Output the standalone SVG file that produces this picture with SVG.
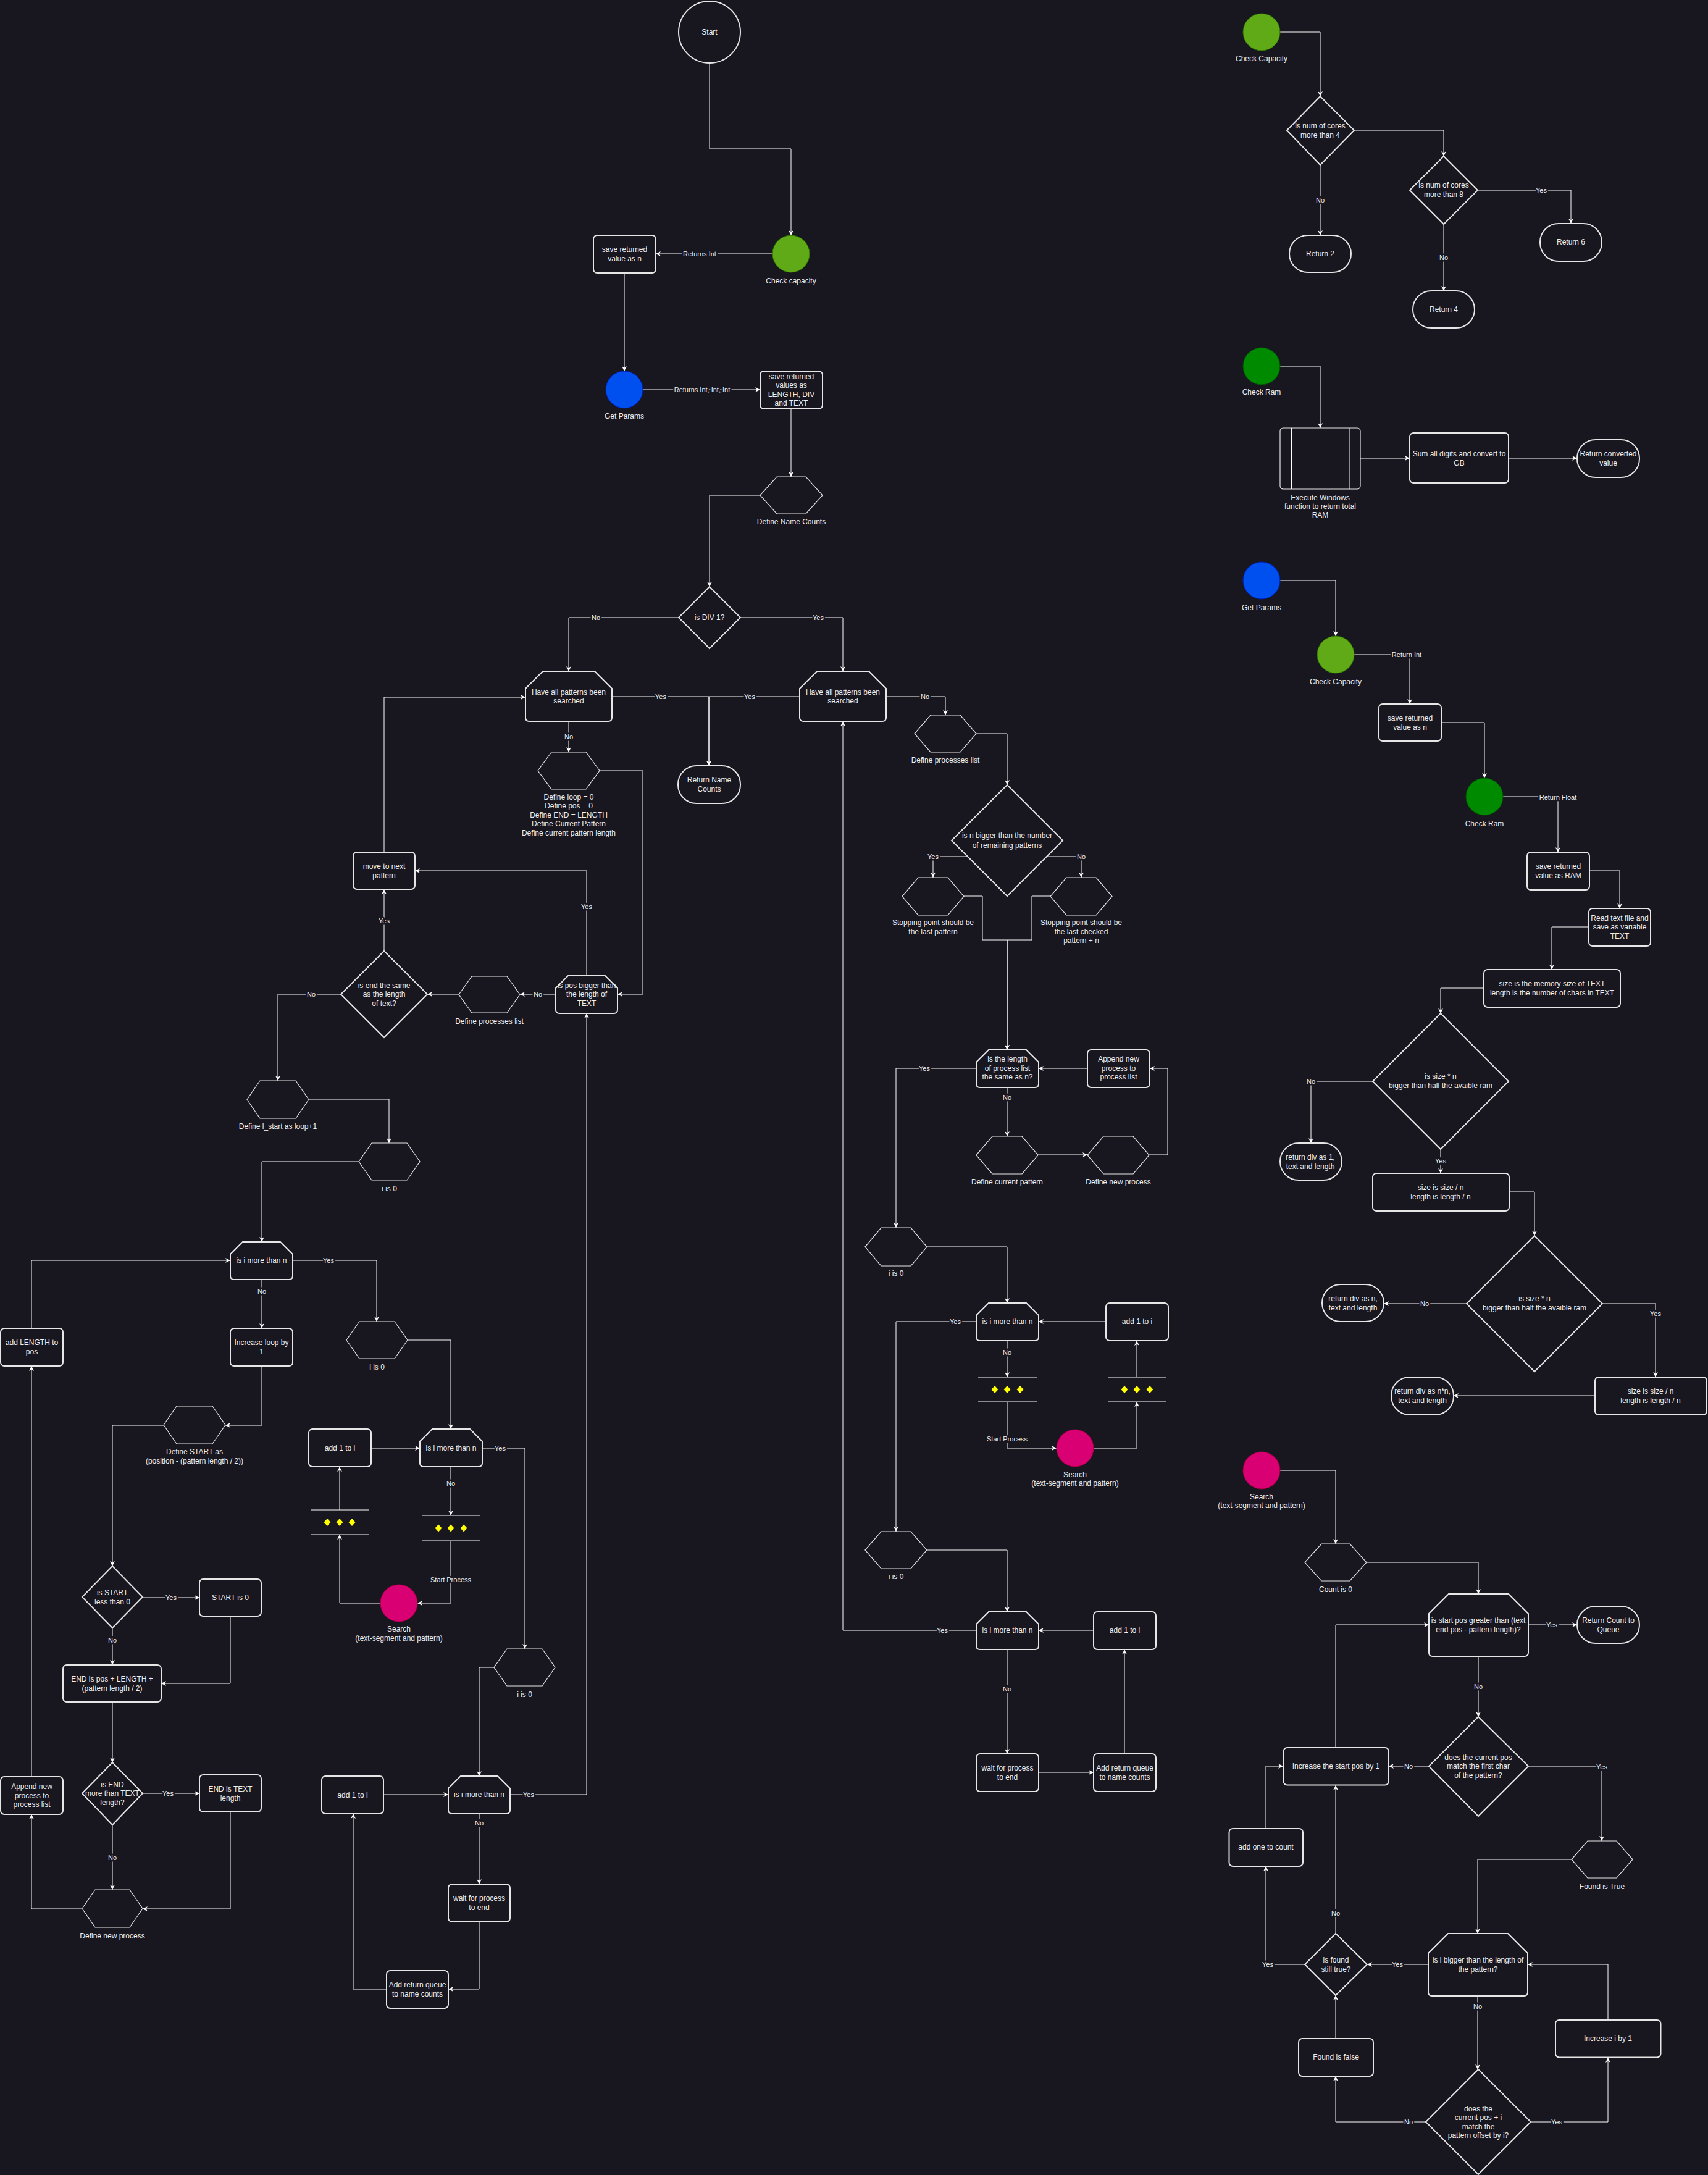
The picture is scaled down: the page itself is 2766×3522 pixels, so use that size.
<svg xmlns="http://www.w3.org/2000/svg" width="2766" height="3522" viewBox="0 0 2766 3522">
<defs>
<marker id="arr" viewBox="0 0 10 10" refX="10" refY="5" markerWidth="8" markerHeight="8" markerUnits="userSpaceOnUse" orient="auto">
<path d="M0,0 L10,5 L0,10 L3,5 Z" fill="#ffffff"/>
</marker>
<style>
.n{fill:#18161f;stroke:#e6e6e6;stroke-width:2}
.h{fill:#18161f;stroke:#e6e6e6;stroke-width:1.2}
.t{font-family:"Liberation Sans",Arial,sans-serif;font-size:12px;fill:#f0f0f0;text-anchor:middle;dominant-baseline:central}
.el{font-family:"Liberation Sans",Arial,sans-serif;font-size:11px;fill:#f0f0f0;text-anchor:middle;dominant-baseline:central;paint-order:stroke;stroke:#18161f;stroke-width:5px;stroke-linejoin:round}
.e{fill:none;stroke:#ffffff;stroke-width:1;marker-end:url(#arr)}
.pl{stroke:#ffffff;stroke-width:1}
.dot{fill:#ffff00}
.g1{fill:#60a917;stroke:#2d7600;stroke-width:1}
.g2{fill:#008a00;stroke:#005700;stroke-width:1}
.bl{fill:#0050ef;stroke:#001dbc;stroke-width:1}
.mg{fill:#d80073;stroke:#a50040;stroke-width:1}
</style>
</defs>
<rect x="0" y="0" width="2766" height="3522" fill="#18161f"/>

<!-- connectors -->
<g id="connectors">
<path class="e" d="M1149,102 V241 H1281 V381"/>
<path class="e" d="M1251,411 H1062"/>
<path class="e" d="M1011,442 V601"/>
<path class="e" d="M1041,631 H1231"/>
<path class="e" d="M1281,662 V772"/>
<path class="e" d="M1231,802 H1149 V950"/>
<path class="e" d="M1099,1000 H921 V1087"/>
<path class="e" d="M1199,1000 H1365 V1087"/>
<path class="e" d="M991,1128 H1148 V1240"/>
<path class="e" d="M1295,1128 H1148 V1240"/>
<path class="e" d="M921,1168 V1218"/>
<path class="e" d="M1435,1128 H1531 V1158"/>
<path class="e" d="M1581,1188 H1631 V1271"/>
<path class="e" d="M1568,1387 H1511 V1421"/>
<path class="e" d="M1694,1387 H1751 V1421"/>
<path class="e" d="M1561,1451 H1591 V1522 H1631 V1700"/>
<path class="e" d="M1701,1451 H1671 V1522 H1631 V1700"/>
<path class="e" d="M1581,1730 H1451 V1988"/>
<path class="e" d="M1631,1761 V1840"/>
<path class="e" d="M1681,1870 H1761"/>
<path class="e" d="M1861,1870 H1891 V1730 H1862"/>
<path class="e" d="M1761,1730 H1682"/>
<path class="e" d="M1501,2019 H1631 V2110"/>
<path class="e" d="M1581,2140 H1451 V2480"/>
<path class="e" d="M1631,2171 V2230"/>
<path class="e" d="M1631,2270 V2345 H1711"/>
<path class="e" d="M1771,2345 H1841 V2270"/>
<path class="e" d="M1841,2230 V2171"/>
<path class="e" d="M1791,2140 H1682"/>
<path class="e" d="M1501,2510 H1631 V2610"/>
<path class="e" d="M1581,2640 H1365 V1168"/>
<path class="e" d="M1631,2671 V2840"/>
<path class="e" d="M1682,2870 H1771"/>
<path class="e" d="M1821,2840 V2671"/>
<path class="e" d="M1771,2640 H1682"/>

<path class="e" d="M971,1248 H1041 V1610 H1000"/>
<path class="e" d="M950,1580 V1410 H672"/>
<path class="e" d="M900,1610 H842"/>
<path class="e" d="M743,1610 H692"/>
<path class="e" d="M622,1540 V1440"/>
<path class="e" d="M622,1380 V1129 H851"/>
<path class="e" d="M552,1610 H450 V1750"/>
<path class="e" d="M500,1780 H630 V1851"/>
<path class="e" d="M581,1881 H424 V2011"/>
<path class="e" d="M474,2041 H610 V2140"/>
<path class="e" d="M424,2072 V2151"/>
<path class="e" d="M51,2151 V2041 H373"/>
<path class="e" d="M424,2212 V2308 H365"/>
<path class="e" d="M265,2308 H182 V2536"/>
<path class="e" d="M231,2587 H323"/>
<path class="e" d="M182,2636 V2696"/>
<path class="e" d="M373,2617 V2726 H261"/>
<path class="e" d="M182,2756 V2854"/>
<path class="e" d="M231,2904 H323"/>
<path class="e" d="M182,2955 V3060"/>
<path class="e" d="M373,2934 V3091 H231"/>
<path class="e" d="M133,3091 H51 V2938"/>
<path class="e" d="M51,2877 V2212"/>
<path class="e" d="M660,2170 H730 V2314"/>
<path class="e" d="M601,2345 H680"/>
<path class="e" d="M730,2375 V2454"/>
<path class="e" d="M730,2495 V2596 H676"/>
<path class="e" d="M616,2596 H550 V2485"/>
<path class="e" d="M550,2445 V2375"/>
<path class="e" d="M781,2345 H850 V2670"/>
<path class="e" d="M800,2700 H776 V2876"/>
<path class="e" d="M826,2906 H950 V1641"/>
<path class="e" d="M621,2906 H726"/>
<path class="e" d="M776,2937 V3051"/>
<path class="e" d="M776,3112 V3221 H726"/>
<path class="e" d="M626,3221 H572 V2937"/>

<path class="e" d="M2073,52 H2138 V156"/>
<path class="e" d="M2193,211 H2338 V253"/>
<path class="e" d="M2138,267 V381"/>
<path class="e" d="M2393,308 H2544 V362"/>
<path class="e" d="M2338,363 V471"/>
<path class="e" d="M2073,593 H2138 V693"/>
<path class="e" d="M2203,742 H2283"/>
<path class="e" d="M2443,742 H2554"/>
<path class="e" d="M2073,940 H2163 V1030"/>
<path class="e" d="M2193,1060 H2283 V1140"/>
<path class="e" d="M2334,1170 H2404 V1260"/>
<path class="e" d="M2434,1290 H2523 V1380"/>
<path class="e" d="M2574,1410 H2623 V1471"/>
<path class="e" d="M2573,1501 H2513 V1570"/>
<path class="e" d="M2403,1600 H2333 V1641"/>
<path class="e" d="M2223,1751 H2123 V1851"/>
<path class="e" d="M2333,1861 V1900"/>
<path class="e" d="M2444,1930 H2485 V2001"/>
<path class="e" d="M2375,2111 H2241"/>
<path class="e" d="M2595,2111 H2681 V2230"/>
<path class="e" d="M2583,2260 H2354"/>
<path class="e" d="M2073,2381 H2163 V2500"/>
<path class="e" d="M2213,2530 H2394 V2581"/>
<path class="e" d="M2475,2631 H2554"/>
<path class="e" d="M2394,2682 V2780"/>
<path class="e" d="M2314,2860 H2249"/>
<path class="e" d="M2163,2830 V2631 H2314"/>
<path class="e" d="M2475,2860 H2594 V2981"/>
<path class="e" d="M2545,3011 H2393 V3131"/>
<path class="e" d="M2313,3181 H2214"/>
<path class="e" d="M2163,3131 V2891"/>
<path class="e" d="M2113,3181 H2050 V3022"/>
<path class="e" d="M2050,2961 V2860 H2078"/>
<path class="e" d="M2393,3232 V3351"/>
<path class="e" d="M2309,3436 H2163 V3362"/>
<path class="e" d="M2163,3301 V3231"/>
<path class="e" d="M2479,3436 H2604 V3332"/>
<path class="e" d="M2604,3271 V3181 H2474"/>

<!-- connector labels -->
<text class="el" x="1133" y="411">Returns Int</text>
<text class="el" x="1137" y="631">Returns Int, Int, Int</text>
<text class="el" x="965" y="1000">No</text>
<text class="el" x="1325" y="1000">Yes</text>
<text class="el" x="1070" y="1128">Yes</text>
<text class="el" x="1214" y="1128">Yes</text>
<text class="el" x="921" y="1193">No</text>
<text class="el" x="1498" y="1128">No</text>
<text class="el" x="1511" y="1387">Yes</text>
<text class="el" x="1751" y="1387">No</text>
<text class="el" x="1497" y="1730">Yes</text>
<text class="el" x="1631" y="1777">No</text>
<text class="el" x="1547" y="2140">Yes</text>
<text class="el" x="1631" y="2190">No</text>
<text class="el" x="1631" y="2330">Start Process</text>
<text class="el" x="1526" y="2640">Yes</text>
<text class="el" x="1631" y="2735">No</text>
<text class="el" x="950" y="1468">Yes</text>
<text class="el" x="871" y="1610">No</text>
<text class="el" x="622" y="1491">Yes</text>
<text class="el" x="504" y="1610">No</text>
<text class="el" x="532" y="2041">Yes</text>
<text class="el" x="424" y="2091">No</text>
<text class="el" x="277" y="2587">Yes</text>
<text class="el" x="182" y="2656">No</text>
<text class="el" x="272" y="2904">Yes</text>
<text class="el" x="182" y="3008">No</text>
<text class="el" x="730" y="2402">No</text>
<text class="el" x="730" y="2558">Start Process</text>
<text class="el" x="810" y="2345">Yes</text>
<text class="el" x="856" y="2906">Yes</text>
<text class="el" x="776" y="2952">No</text>
<text class="el" x="2138" y="324">No</text>
<text class="el" x="2496" y="308">Yes</text>
<text class="el" x="2338" y="417">No</text>
<text class="el" x="2278" y="1060">Return Int</text>
<text class="el" x="2523" y="1291">Return Float</text>
<text class="el" x="2123" y="1751">No</text>
<text class="el" x="2333" y="1880">Yes</text>
<text class="el" x="2307" y="2111">No</text>
<text class="el" x="2681" y="2127">Yes</text>
<text class="el" x="2513" y="2631">Yes</text>
<text class="el" x="2394" y="2731">No</text>
<text class="el" x="2281" y="2860">No</text>
<text class="el" x="2594" y="2861">Yes</text>
<text class="el" x="2263" y="3181">Yes</text>
<text class="el" x="2163" y="3098">No</text>
<text class="el" x="2053" y="3181">Yes</text>
<text class="el" x="2393" y="3249">No</text>
<text class="el" x="2281" y="3436">No</text>
<text class="el" x="2521" y="3436">Yes</text>
</g>

<!-- main flow -->
<g id="start"><circle class="n" cx="1149" cy="52" r="50"/><text class="t" x="1149" y="52">Start</text></g>
<g id="check-capacity-call"><circle class="g1" cx="1281" cy="411" r="30"/><text class="t" x="1281" y="455">Check capacity</text></g>
<g id="save-n"><rect class="n" x="961" y="381" width="101" height="61" rx="6"/><text class="t" x="1011.5" y="403.5">save returned</text><text class="t" x="1011.5" y="418.5">value as n</text></g>
<g id="get-params-call"><circle class="bl" cx="1011" cy="631" r="30"/><text class="t" x="1011" y="674">Get Params</text></g>
<g id="save-values"><rect class="n" x="1231" y="601" width="101" height="61" rx="6"/><text class="t" x="1281.5" y="609.5">save returned</text><text class="t" x="1281.5" y="623.5">values as</text><text class="t" x="1281.5" y="638.5">LENGTH, DIV</text><text class="t" x="1281.5" y="652.5">and TEXT</text></g>
<g id="define-name-counts"><polygon class="h" points="1231,802 1258,772 1305,772 1332,802 1305,832 1258,832"/><text class="t" x="1281.5" y="845">Define Name Counts</text></g>
<g id="is-div-1"><polygon class="n" points="1149,950 1199,1000 1149,1050 1099,1000"/><text class="t" x="1149" y="1000">is DIV 1?</text></g>
<g id="all-searched-left"><path class="n" d="M879,1087 H963 L991,1115 V1162 Q991,1168 985,1168 H857 Q851,1168 851,1162 V1115 Z"/><text class="t" x="921" y="1120.5">Have all patterns been</text><text class="t" x="921" y="1135">searched</text></g>
<g id="all-searched-right"><path class="n" d="M1323,1087 H1407 L1435,1115 V1162 Q1435,1168 1429,1168 H1301 Q1295,1168 1295,1162 V1115 Z"/><text class="t" x="1365" y="1120.5">Have all patterns been</text><text class="t" x="1365" y="1135">searched</text></g>
<g id="return-name-counts"><rect class="n" x="1098" y="1240" width="101" height="61" rx="30"/><text class="t" x="1148.5" y="1263">Return Name</text><text class="t" x="1148.5" y="1278">Counts</text></g>
<g id="define-loop"><polygon class="h" points="871,1248 893,1218 949,1218 971,1248 949,1278 893,1278"/><text class="t" x="921" y="1291">Define loop = 0</text><text class="t" x="921" y="1305">Define pos = 0</text><text class="t" x="921" y="1320">Define END = LENGTH</text><text class="t" x="921" y="1334">Define Current Pattern</text><text class="t" x="921" y="1349">Define current pattern length</text></g>

<!-- multi-process branch -->
<g id="define-processes-list-r"><polygon class="h" points="1481,1188 1507,1158 1555,1158 1581,1188 1555,1218 1507,1218"/><text class="t" x="1531" y="1231">Define processes list</text></g>
<g id="n-bigger"><polygon class="n" points="1631,1271 1721,1361 1631,1451 1541,1361"/><text class="t" x="1631" y="1353">is n bigger than the number</text><text class="t" x="1631" y="1369">of remaining patterns</text></g>
<g id="stop-last"><polygon class="h" points="1461,1451.5 1487,1421 1535,1421 1561,1451.5 1535,1482 1487,1482"/><text class="t" x="1511" y="1494">Stopping point should be</text><text class="t" x="1511" y="1509">the last pattern</text></g>
<g id="stop-checked"><polygon class="h" points="1701,1451.5 1727,1421 1775,1421 1801,1451.5 1775,1482 1727,1482"/><text class="t" x="1751" y="1494">Stopping point should be</text><text class="t" x="1751" y="1509">the last checked</text><text class="t" x="1751" y="1523">pattern + n</text></g>
<g id="list-len-same"><path class="n" d="M1601,1700 H1662 L1682,1720 V1755 Q1682,1761 1676,1761 H1587 Q1581,1761 1581,1755 V1720 Z"/><text class="t" x="1631.5" y="1715">is the length</text><text class="t" x="1631.5" y="1730">of process list</text><text class="t" x="1631.5" y="1744">the same as n?</text></g>
<g id="append-process-r"><rect class="n" x="1761" y="1700" width="101" height="61" rx="6"/><text class="t" x="1811.5" y="1715">Append new</text><text class="t" x="1811.5" y="1730">process to</text><text class="t" x="1811.5" y="1744">process list</text></g>
<g id="define-current-pattern"><polygon class="h" points="1581,1870.5 1607,1840 1655,1840 1681,1870.5 1655,1901 1607,1901"/><text class="t" x="1631" y="1914">Define current pattern</text></g>
<g id="define-new-process-r"><polygon class="h" points="1761,1870.5 1787,1840 1835,1840 1861,1870.5 1835,1901 1787,1901"/><text class="t" x="1811" y="1914">Define new process</text></g>
<g id="i-zero-r1"><polygon class="h" points="1401,2019 1427,1988 1475,1988 1501,2019 1475,2050 1427,2050"/><text class="t" x="1451" y="2062">i is 0</text></g>
<g id="i-more-r1"><path class="n" d="M1601,2110 H1662 L1682,2130 V2165 Q1682,2171 1676,2171 H1587 Q1581,2171 1581,2165 V2130 Z"/><text class="t" x="1631.5" y="2140">is i more than n</text></g>
<g id="add-one-r1"><rect class="n" x="1791" y="2110" width="101" height="61" rx="6"/><text class="t" x="1841.5" y="2140">add 1 to i</text></g>
<g id="parallel-r1"><line class="pl" x1="1584" y1="2230" x2="1679" y2="2230"/><line class="pl" x1="1584" y1="2270" x2="1679" y2="2270"/><polygon class="dot" points="1611,2244 1616.5,2250 1611,2256 1605.5,2250"/><polygon class="dot" points="1631,2244 1636.5,2250 1631,2256 1625.5,2250"/><polygon class="dot" points="1652,2244 1657.5,2250 1652,2256 1646.5,2250"/></g>
<g id="search-call-r"><circle class="mg" cx="1741" cy="2345" r="30"/><text class="t" x="1741" y="2388">Search</text><text class="t" x="1741" y="2402">(text-segment and pattern)</text></g>
<g id="parallel-r2"><line class="pl" x1="1794" y1="2230" x2="1889" y2="2230"/><line class="pl" x1="1794" y1="2270" x2="1889" y2="2270"/><polygon class="dot" points="1821,2244 1826.5,2250 1821,2256 1815.5,2250"/><polygon class="dot" points="1841,2244 1846.5,2250 1841,2256 1835.5,2250"/><polygon class="dot" points="1862,2244 1867.5,2250 1862,2256 1856.5,2250"/></g>
<g id="i-zero-r2"><polygon class="h" points="1401,2510 1427,2480 1475,2480 1501,2510 1475,2540 1427,2540"/><text class="t" x="1451" y="2553">i is 0</text></g>
<g id="i-more-r2"><path class="n" d="M1601,2610 H1662 L1682,2630 V2665 Q1682,2671 1676,2671 H1587 Q1581,2671 1581,2665 V2630 Z"/><text class="t" x="1631.5" y="2640">is i more than n</text></g>
<g id="add-one-r2"><rect class="n" x="1771" y="2610" width="101" height="61" rx="6"/><text class="t" x="1821.5" y="2640">add 1 to i</text></g>
<g id="wait-r"><rect class="n" x="1581" y="2840" width="101" height="61" rx="6"/><text class="t" x="1631.5" y="2863">wait for process</text><text class="t" x="1631.5" y="2878">to end</text></g>
<g id="add-queue-r"><rect class="n" x="1771" y="2840" width="101" height="61" rx="6"/><text class="t" x="1821.5" y="2863">Add return queue</text><text class="t" x="1821.5" y="2878">to name counts</text></g>

<!-- single-process branch -->
<g id="move-next"><rect class="n" x="572" y="1380" width="100" height="60" rx="6"/><text class="t" x="622" y="1403">move to next</text><text class="t" x="622" y="1418">pattern</text></g>
<g id="end-same"><polygon class="n" points="622,1540 692,1610 622,1680 552,1610"/><text class="t" x="622" y="1595.5">is end the same</text><text class="t" x="622" y="1610">as the length</text><text class="t" x="622" y="1624.5">of text?</text></g>
<g id="define-processes-list-l"><polygon class="h" points="743,1610.5 764,1581 821,1581 842,1610.5 821,1640 764,1640"/><text class="t" x="792.5" y="1654">Define processes list</text></g>
<g id="pos-bigger"><path class="n" d="M920,1580 H980 L1000,1600 V1635 Q1000,1641 994,1641 H906 Q900,1641 900,1635 V1600 Z"/><text class="t" x="950" y="1595.5">is pos bigger than</text><text class="t" x="950" y="1610">the length of</text><text class="t" x="950" y="1624.5">TEXT</text></g>
<g id="define-lstart"><polygon class="h" points="400,1780.5 421,1750 479,1750 500,1780.5 479,1811 421,1811"/><text class="t" x="450" y="1824">Define l_start as loop+1</text></g>
<g id="i-zero-l1"><polygon class="h" points="581,1881 602,1851 659,1851 680,1881 659,1911 602,1911"/><text class="t" x="630.5" y="1925">i is 0</text></g>
<g id="i-more-l1"><path class="n" d="M393,2011 H454 L474,2031 V2066 Q474,2072 468,2072 H379 Q373,2072 373,2066 V2031 Z"/><text class="t" x="423.5" y="2041">is i more than n</text></g>
<g id="increase-loop"><rect class="n" x="373" y="2151" width="101" height="61" rx="6"/><text class="t" x="423.5" y="2174">Increase loop by</text><text class="t" x="423.5" y="2189">1</text></g>
<g id="add-length"><rect class="n" x="1" y="2151" width="101" height="61" rx="6"/><text class="t" x="51.5" y="2174">add LENGTH to</text><text class="t" x="51.5" y="2189">pos</text></g>
<g id="i-zero-l2"><polygon class="h" points="561,2170 582,2140 639,2140 660,2170 639,2200 582,2200"/><text class="t" x="610.5" y="2214">i is 0</text></g>
<g id="i-more-l2"><path class="n" d="M700,2314 H761 L781,2334 V2369 Q781,2375 775,2375 H686 Q680,2375 680,2369 V2334 Z"/><text class="t" x="730.5" y="2345">is i more than n</text></g>
<g id="add-one-l1"><rect class="n" x="500" y="2314" width="101" height="61" rx="6"/><text class="t" x="550.5" y="2345">add 1 to i</text></g>
<g id="parallel-l1"><line class="pl" x1="684" y1="2454" x2="777" y2="2454"/><line class="pl" x1="684" y1="2495" x2="777" y2="2495"/><polygon class="dot" points="710,2468.5 715.5,2474.5 710,2480.5 704.5,2474.5"/><polygon class="dot" points="730,2468.5 735.5,2474.5 730,2480.5 724.5,2474.5"/><polygon class="dot" points="751,2468.5 756.5,2474.5 751,2480.5 745.5,2474.5"/></g>
<g id="parallel-l2"><line class="pl" x1="503" y1="2445" x2="598" y2="2445"/><line class="pl" x1="503" y1="2485" x2="598" y2="2485"/><polygon class="dot" points="530,2459 535.5,2465 530,2471 524.5,2465"/><polygon class="dot" points="550,2459 555.5,2465 550,2471 544.5,2465"/><polygon class="dot" points="570,2459 575.5,2465 570,2471 564.5,2465"/></g>
<g id="search-call-l"><circle class="mg" cx="646" cy="2596" r="30"/><text class="t" x="646" y="2638">Search</text><text class="t" x="646" y="2653">(text-segment and pattern)</text></g>
<g id="define-start"><polygon class="h" points="265,2307.5 286,2277 344,2277 365,2307.5 344,2338 286,2338"/><text class="t" x="315" y="2351">Define START as</text><text class="t" x="315" y="2366">(position - (pattern length / 2))</text></g>
<g id="start-less"><polygon class="n" points="182,2536 231,2586 182,2636 133,2586"/><text class="t" x="182" y="2578.5">is START</text><text class="t" x="182" y="2593.5">less than 0</text></g>
<g id="start-zero"><rect class="n" x="323" y="2557" width="100" height="60" rx="6"/><text class="t" x="373" y="2587">START is 0</text></g>
<g id="end-calc"><rect class="n" x="102" y="2696" width="159" height="60" rx="6"/><text class="t" x="181.5" y="2719">END is pos + LENGTH +</text><text class="t" x="181.5" y="2734">(pattern length / 2)</text></g>
<g id="end-more"><polygon class="n" points="182,2854 231,2904 182,2955 133,2904"/><text class="t" x="182" y="2889.5">is END</text><text class="t" x="182" y="2904">more than TEXT</text><text class="t" x="182" y="2918.5">length?</text></g>
<g id="end-text-length"><rect class="n" x="323" y="2874" width="100" height="60" rx="6"/><text class="t" x="373" y="2897">END is TEXT</text><text class="t" x="373" y="2912">length</text></g>
<g id="define-new-process-l"><polygon class="h" points="133,3090.5 154,3060 210,3060 231,3090.5 210,3121 154,3121"/><text class="t" x="182" y="3135">Define new process</text></g>
<g id="append-process-l"><rect class="n" x="1" y="2877" width="101" height="61" rx="6"/><text class="t" x="51.5" y="2893">Append new</text><text class="t" x="51.5" y="2907.5">process to</text><text class="t" x="51.5" y="2922">process list</text></g>
<g id="i-zero-l3"><polygon class="h" points="800,2700 821,2670 878,2670 899,2700 878,2730 821,2730"/><text class="t" x="849.5" y="2744">i is 0</text></g>
<g id="i-more-l3"><path class="n" d="M746,2876 H806 L826,2896 V2931 Q826,2937 820,2937 H732 Q726,2937 726,2931 V2896 Z"/><text class="t" x="776" y="2906">is i more than n</text></g>
<g id="add-one-l2"><rect class="n" x="521" y="2876" width="100" height="61" rx="6"/><text class="t" x="571" y="2906.5">add 1 to i</text></g>
<g id="wait-l"><rect class="n" x="726" y="3051" width="100" height="61" rx="6"/><text class="t" x="776" y="3074">wait for process</text><text class="t" x="776" y="3089">to end</text></g>
<g id="add-queue-l"><rect class="n" x="626" y="3191" width="100" height="61" rx="6"/><text class="t" x="676" y="3214">Add return queue</text><text class="t" x="676" y="3229">to name counts</text></g>

<!-- Check Capacity -->
<g id="check-capacity"><circle class="g1" cx="2043" cy="52" r="30"/><text class="t" x="2043" y="95">Check Capacity</text></g>
<g id="cores-4"><polygon class="n" points="2138,156 2193,211 2138,267 2084,211"/><text class="t" x="2138" y="204">is num of cores</text><text class="t" x="2138" y="219">more than 4</text></g>
<g id="return-2"><rect class="n" x="2088" y="381" width="100" height="60" rx="30"/><text class="t" x="2138" y="411">Return 2</text></g>
<g id="cores-8"><polygon class="n" points="2338,253 2393,308 2338,363 2283,308"/><text class="t" x="2338" y="300">is num of cores</text><text class="t" x="2338" y="315">more than 8</text></g>
<g id="return-6"><rect class="n" x="2494" y="362" width="100" height="61" rx="30"/><text class="t" x="2544" y="392">Return 6</text></g>
<g id="return-4"><rect class="n" x="2288" y="471" width="100" height="60" rx="30"/><text class="t" x="2338" y="501">Return 4</text></g>

<!-- Check Ram -->
<g id="check-ram"><circle class="g2" cx="2043" cy="593" r="30"/><text class="t" x="2043" y="635">Check Ram</text></g>
<g id="exec-windows"><rect class="h" x="2073" y="693" width="130" height="99" rx="5"/><line class="pl" x1="2091.5" y1="693" x2="2091.5" y2="792"/><line class="pl" x1="2186" y1="693" x2="2186" y2="792"/><text class="t" x="2138" y="806">Execute Windows</text><text class="t" x="2138" y="820">function to return total</text><text class="t" x="2138" y="834">RAM</text></g>
<g id="sum-digits"><rect class="n" x="2283" y="701" width="160" height="81" rx="6"/><text class="t" x="2363" y="735">Sum all digits and convert to</text><text class="t" x="2363" y="750">GB</text></g>
<g id="return-converted"><rect class="n" x="2554" y="712" width="101" height="61" rx="30"/><text class="t" x="2604.5" y="735">Return converted</text><text class="t" x="2604.5" y="750">value</text></g>

<!-- Get Params -->
<g id="get-params"><circle class="bl" cx="2043" cy="940" r="30"/><text class="t" x="2043" y="984">Get Params</text></g>
<g id="check-capacity-call-2"><circle class="g1" cx="2163" cy="1060" r="30"/><text class="t" x="2163" y="1103.5">Check Capacity</text></g>
<g id="save-n-2"><rect class="n" x="2233" y="1140" width="101" height="60" rx="6"/><text class="t" x="2283.5" y="1163">save returned</text><text class="t" x="2283.5" y="1178">value as n</text></g>
<g id="check-ram-call"><circle class="g2" cx="2404" cy="1290" r="30"/><text class="t" x="2404" y="1333.5">Check Ram</text></g>
<g id="save-ram"><rect class="n" x="2473" y="1380" width="101" height="61" rx="6"/><text class="t" x="2523.5" y="1403">save returned</text><text class="t" x="2523.5" y="1418">value as RAM</text></g>
<g id="read-text"><rect class="n" x="2573" y="1471" width="100" height="61" rx="6"/><text class="t" x="2623" y="1486.5">Read text file and</text><text class="t" x="2623" y="1501">save as variable</text><text class="t" x="2623" y="1515.5">TEXT</text></g>
<g id="size-length"><rect class="n" x="2403" y="1570" width="221" height="61" rx="6"/><text class="t" x="2513.5" y="1593">size is the memory size of TEXT</text><text class="t" x="2513.5" y="1608">length is the number of chars in TEXT</text></g>
<g id="size-check-1"><polygon class="n" points="2333,1641 2443,1751 2333,1861 2223,1751"/><text class="t" x="2333" y="1742.5">is size * n</text><text class="t" x="2333" y="1758">bigger than half the avaible ram</text></g>
<g id="return-div-1"><rect class="n" x="2073" y="1851" width="100" height="60" rx="30"/><text class="t" x="2122" y="1874">return div as 1,</text><text class="t" x="2122" y="1889">text and length</text></g>
<g id="divide-1"><rect class="n" x="2223" y="1900" width="221" height="61" rx="6"/><text class="t" x="2333" y="1923">size is size / n</text><text class="t" x="2333" y="1938">length is length / n</text></g>
<g id="size-check-2"><polygon class="n" points="2485,2001 2595,2111 2485,2221 2375,2111"/><text class="t" x="2485" y="2103">is size * n</text><text class="t" x="2485" y="2118">bigger than half the avaible ram</text></g>
<g id="return-div-n"><rect class="n" x="2141" y="2080" width="100" height="60" rx="30"/><text class="t" x="2191" y="2103">return div as n,</text><text class="t" x="2191" y="2118">text and length</text></g>
<g id="divide-2"><rect class="n" x="2583" y="2230" width="181" height="61" rx="6"/><text class="t" x="2673" y="2253">size is size / n</text><text class="t" x="2673" y="2268">length is length / n</text></g>
<g id="return-div-nn"><rect class="n" x="2253" y="2230" width="101" height="61" rx="30"/><text class="t" x="2303.5" y="2253">return div as n*n,</text><text class="t" x="2303.5" y="2268">text and length</text></g>

<!-- Search -->
<g id="search"><circle class="mg" cx="2043" cy="2381" r="30"/><text class="t" x="2043" y="2424">Search</text><text class="t" x="2043" y="2437.5">(text-segment and pattern)</text></g>
<g id="count-zero"><polygon class="h" points="2113,2530 2140,2500 2186,2500 2213,2530 2186,2560 2140,2560"/><text class="t" x="2163" y="2574">Count is 0</text></g>
<g id="start-greater"><path class="n" d="M2346,2581 H2443 L2475,2613 V2676 Q2475,2682 2469,2682 H2320 Q2314,2682 2314,2676 V2613 Z"/><text class="t" x="2394" y="2624">is start pos greater than (text</text><text class="t" x="2394" y="2638.5">end pos - pattern length)?</text></g>
<g id="return-count"><rect class="n" x="2554" y="2601" width="101" height="60" rx="30"/><text class="t" x="2604.5" y="2624">Return Count to</text><text class="t" x="2604.5" y="2639">Queue</text></g>
<g id="match-first"><polygon class="n" points="2394,2780 2475,2860 2394,2941 2314,2860"/><text class="t" x="2394" y="2845.5">does the current pos</text><text class="t" x="2394" y="2860">match the first char</text><text class="t" x="2394" y="2874.5">of the pattern?</text></g>
<g id="increase-start"><rect class="n" x="2078.5" y="2830" width="170.5" height="60.5" rx="6"/><text class="t" x="2163.5" y="2860">Increase the start pos by 1</text></g>
<g id="add-one-count"><rect class="n" x="1990.5" y="2961" width="119.5" height="61" rx="6"/><text class="t" x="2050" y="2991">add one to count</text></g>
<g id="found-true"><polygon class="h" points="2545,3011 2571,2981 2618,2981 2644,3011 2618,3041 2571,3041"/><text class="t" x="2594.5" y="3055">Found is True</text></g>
<g id="i-bigger"><path class="n" d="M2345,3131 H2442 L2474,3163 V3226 Q2474,3232 2468,3232 H2319 Q2313,3232 2313,3226 V3163 Z"/><text class="t" x="2393.5" y="3174">is i bigger than the length of</text><text class="t" x="2393.5" y="3189">the pattern?</text></g>
<g id="found-still"><polygon class="n" points="2163,3131 2214,3181 2163,3231 2113,3181"/><text class="t" x="2163.5" y="3174">is found</text><text class="t" x="2163.5" y="3189">still true?</text></g>
<g id="found-false"><rect class="n" x="2103" y="3301" width="121" height="61" rx="6"/><text class="t" x="2163.5" y="3331">Found is false</text></g>
<g id="increase-i"><rect class="n" x="2519" y="3271" width="170.5" height="60.5" rx="6"/><text class="t" x="2604" y="3301">Increase i by 1</text></g>
<g id="match-offset"><polygon class="n" points="2394,3351 2479,3436 2394,3521 2309,3436"/><text class="t" x="2394" y="3414.5">does the</text><text class="t" x="2394" y="3429">current pos + i</text><text class="t" x="2394" y="3458">pattern offset by i?</text><text class="t" x="2394" y="3443.5">match the</text></g>
</svg>
